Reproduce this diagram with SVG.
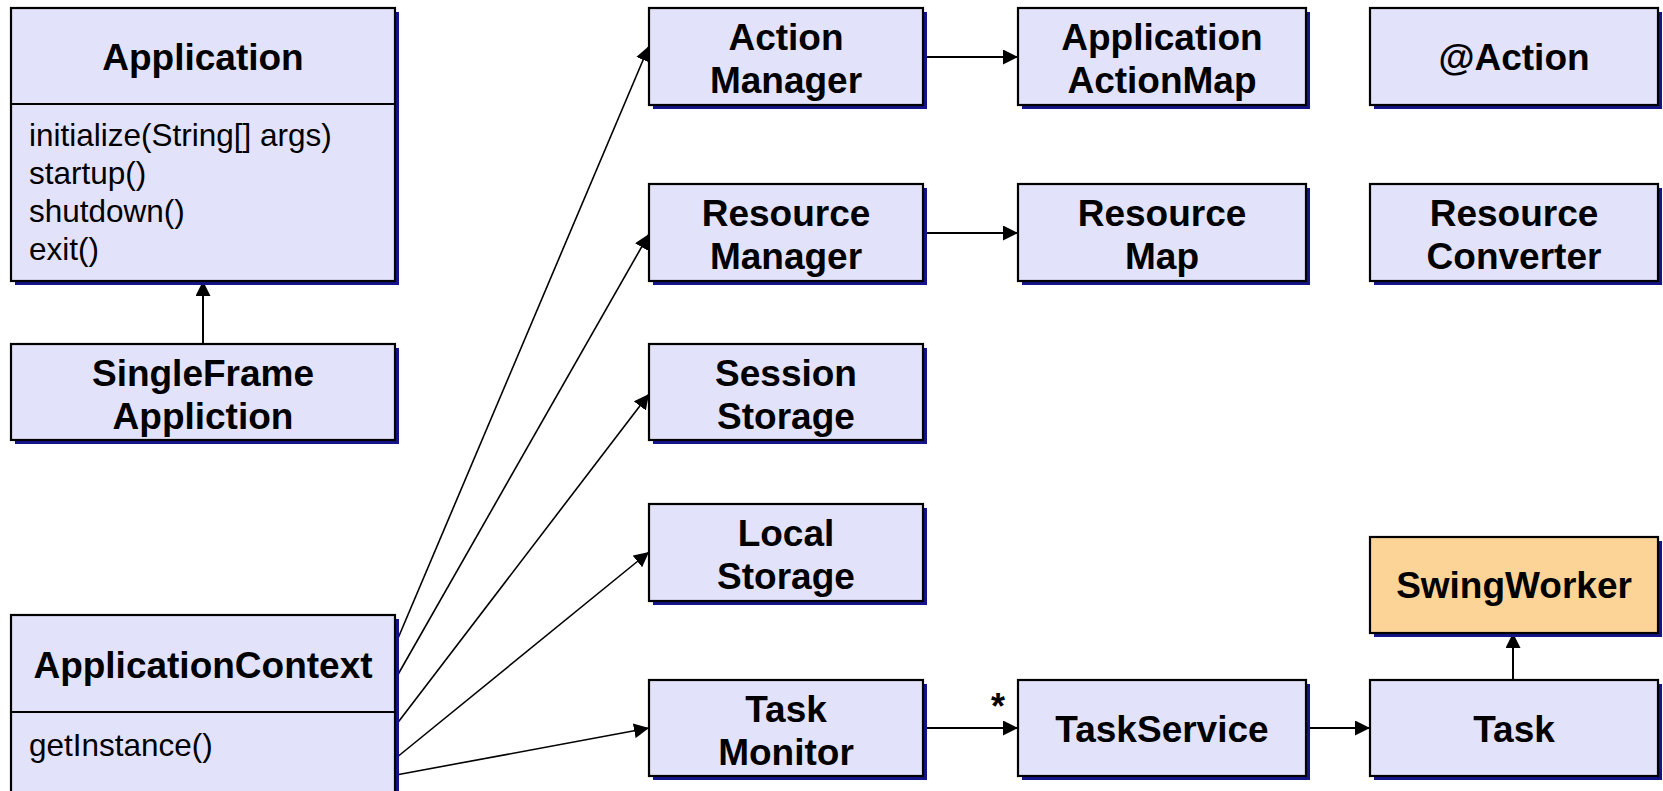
<svg xmlns="http://www.w3.org/2000/svg" width="1663" height="791" viewBox="0 0 1663 791">
<style>
.sh{fill:#14148a;stroke:none}
.box{fill:#e2e2fb;stroke:#000;stroke-width:2.2}
.sw{fill:#fdd498;stroke:#000;stroke-width:2.2}
.t{font-family:"Liberation Sans",Arial,sans-serif;font-weight:bold;font-size:37px;fill:#000;text-anchor:middle}
.m{font-family:"Liberation Sans",Arial,sans-serif;font-size:31.5px;fill:#000}
.c{stroke:#000;stroke-width:2;fill:none;marker-end:url(#ah)}
.f{stroke:#000;stroke-width:1.6;fill:none;marker-end:url(#ah)}
.div{stroke:#000;stroke-width:2}
</style>
<defs>
<marker id="ah" viewBox="0 0 15 15" refX="15" refY="7.5" markerWidth="15" markerHeight="15" markerUnits="userSpaceOnUse" orient="auto">
<path d="M0,0 L15,7.5 L0,15 z" fill="#000"/>
</marker>
</defs>
<rect width="1663" height="791" fill="#fff"/>

<g id="connectors">
<line class="c" x1="203" y1="344" x2="203" y2="281"/>
<line class="c" x1="923" y1="57" x2="1018" y2="57"/>
<line class="c" x1="923" y1="233" x2="1018" y2="233"/>
<line class="c" x1="923" y1="728" x2="1018" y2="728"/>
<line class="c" x1="1306" y1="728" x2="1370" y2="728"/>
<line class="c" x1="1513" y1="680" x2="1513" y2="633"/>
<line class="f" x1="396" y1="643" x2="649" y2="46"/>
<line class="f" x1="396" y1="678" x2="649" y2="234"/>
<line class="f" x1="396" y1="725" x2="649" y2="394"/>
<line class="f" x1="396" y1="758" x2="649" y2="552"/>
<line class="f" x1="396" y1="775" x2="649" y2="728"/>
<text class="t" x="998" y="719" style="font-size:36px">*</text>
</g>

<g id="application">
<rect class="sh" x="15" y="12" width="384" height="273"/>
<rect class="box" x="11" y="8" width="384" height="273"/>
<line class="div" x1="11" y1="104" x2="395" y2="104"/>
<text class="t" x="203" y="70">Application</text>
<text class="m" x="29" y="146">initialize(String[] args)</text>
<text class="m" x="29" y="184">startup()</text>
<text class="m" x="29" y="222">shutdown()</text>
<text class="m" x="29" y="260">exit()</text>
</g>

<g id="singleframe">
<rect class="sh" x="15" y="348" width="384" height="96"/>
<rect class="box" x="11" y="344" width="384" height="96"/>
<text class="t" x="203" y="386">SingleFrame</text>
<text class="t" x="203" y="429">Appliction</text>
</g>

<g id="appcontext">
<rect class="sh" x="15" y="619" width="384" height="190"/>
<rect class="box" x="11" y="615" width="384" height="190"/>
<line class="div" x1="11" y1="712" x2="395" y2="712"/>
<text class="t" x="203" y="678">ApplicationContext</text>
<text class="m" x="29" y="756">getInstance()</text>
</g>

<g id="actionmanager">
<rect class="sh" x="653" y="12" width="274" height="97"/>
<rect class="box" x="649" y="8" width="274" height="97"/>
<text class="t" x="786" y="50">Action</text>
<text class="t" x="786" y="93">Manager</text>
</g>

<g id="resourcemanager">
<rect class="sh" x="653" y="188" width="274" height="97"/>
<rect class="box" x="649" y="184" width="274" height="97"/>
<text class="t" x="786" y="226">Resource</text>
<text class="t" x="786" y="269">Manager</text>
</g>

<g id="sessionstorage">
<rect class="sh" x="653" y="348" width="274" height="96"/>
<rect class="box" x="649" y="344" width="274" height="96"/>
<text class="t" x="786" y="386">Session</text>
<text class="t" x="786" y="429">Storage</text>
</g>

<g id="localstorage">
<rect class="sh" x="653" y="508" width="274" height="97"/>
<rect class="box" x="649" y="504" width="274" height="97"/>
<text class="t" x="786" y="546">Local</text>
<text class="t" x="786" y="589">Storage</text>
</g>

<g id="taskmonitor">
<rect class="sh" x="653" y="684" width="274" height="96"/>
<rect class="box" x="649" y="680" width="274" height="96"/>
<text class="t" x="786" y="722">Task</text>
<text class="t" x="786" y="765">Monitor</text>
</g>

<g id="appactionmap">
<rect class="sh" x="1022" y="12" width="288" height="97"/>
<rect class="box" x="1018" y="8" width="288" height="97"/>
<text class="t" x="1162" y="50">Application</text>
<text class="t" x="1162" y="93">ActionMap</text>
</g>

<g id="resourcemap">
<rect class="sh" x="1022" y="188" width="288" height="97"/>
<rect class="box" x="1018" y="184" width="288" height="97"/>
<text class="t" x="1162" y="226">Resource</text>
<text class="t" x="1162" y="269">Map</text>
</g>

<g id="taskservice">
<rect class="sh" x="1022" y="684" width="288" height="96"/>
<rect class="box" x="1018" y="680" width="288" height="96"/>
<text class="t" x="1162" y="742">TaskService</text>
</g>

<g id="action">
<rect class="sh" x="1374" y="12" width="288" height="97"/>
<rect class="box" x="1370" y="8" width="288" height="97"/>
<text class="t" x="1514" y="70">@Action</text>
</g>

<g id="resourceconverter">
<rect class="sh" x="1374" y="188" width="288" height="97"/>
<rect class="box" x="1370" y="184" width="288" height="97"/>
<text class="t" x="1514" y="226">Resource</text>
<text class="t" x="1514" y="269">Converter</text>
</g>

<g id="swingworker">
<rect class="sh" x="1374" y="541" width="288" height="96"/>
<rect class="sw" x="1370" y="537" width="288" height="96"/>
<text class="t" x="1514" y="598">SwingWorker</text>
</g>

<g id="task">
<rect class="sh" x="1374" y="684" width="288" height="96"/>
<rect class="box" x="1370" y="680" width="288" height="96"/>
<text class="t" x="1514" y="742">Task</text>
</g>
</svg>
